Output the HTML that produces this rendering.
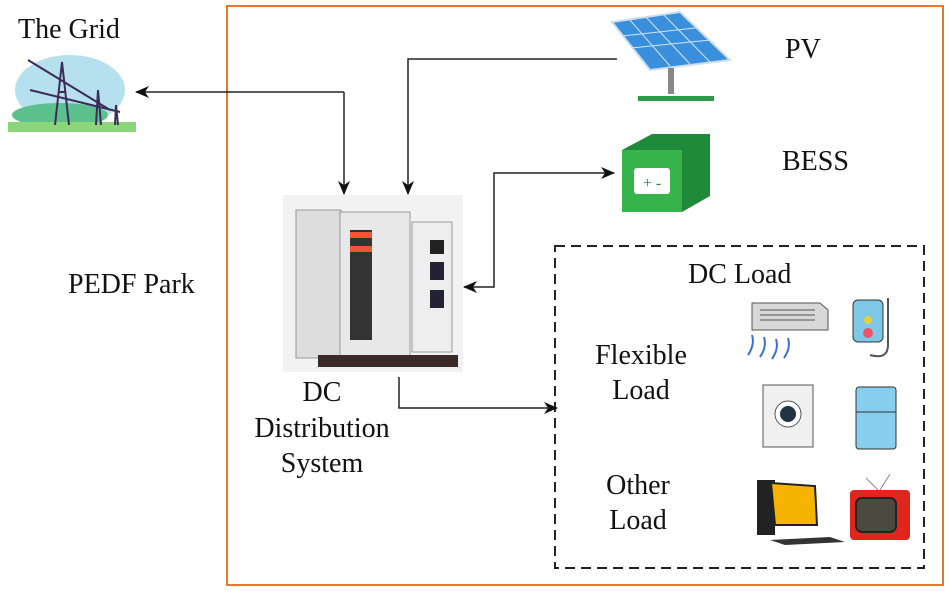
<!DOCTYPE html>
<html><head><meta charset="utf-8"><style>
body{margin:0;background:#fff}
svg{display:block}
text{font-family:"Liberation Serif",serif;fill:#111}
</style></head><body>
<svg width="950" height="593" viewBox="0 0 950 593" xmlns="http://www.w3.org/2000/svg">
<defs><marker id="a" markerWidth="14" markerHeight="14" refX="13" refY="7" orient="auto" markerUnits="userSpaceOnUse"><path d="M0,1 L14,7 L0,13 L4,7 z" fill="#111"/></marker></defs>
<rect x="227" y="6" width="716" height="579" fill="none" stroke="#e9772e" stroke-width="2"/>
<rect x="555" y="246" width="369" height="322" fill="none" stroke="#222" stroke-width="2" stroke-dasharray="10,6"/>
<text x="18" y="38" font-size="28">The Grid</text>
<text x="68" y="293" font-size="28">PEDF Park</text>
<text x="785" y="58" font-size="28">PV</text>
<text x="782" y="170" font-size="28">BESS</text>
<text x="688" y="283" font-size="28">DC Load</text>
<text x="641" y="364" font-size="28" text-anchor="middle">Flexible</text>
<text x="641" y="399" font-size="28" text-anchor="middle">Load</text>
<text x="638" y="494" font-size="28" text-anchor="middle">Other</text>
<text x="638" y="529" font-size="28" text-anchor="middle">Load</text>
<text x="322" y="401" font-size="28" text-anchor="middle">DC</text>
<text x="322" y="437" font-size="28" text-anchor="middle">Distribution</text>
<text x="322" y="472" font-size="28" text-anchor="middle">System</text>
<g fill="none" stroke="#222" stroke-width="1.5">
<path d="M344,92 H136" marker-end="url(#a)"/>
<path d="M344,92 V194" marker-end="url(#a)"/>
<path d="M617,59 H408 V194" marker-end="url(#a)"/>
<path d="M494,230 V173 H614" marker-end="url(#a)"/>
<path d="M494,230 V287 H464" marker-end="url(#a)"/>
<path d="M399,377 V408 H557" marker-end="url(#a)"/>
</g>
<!-- grid icon -->
<ellipse cx="70" cy="90" rx="55" ry="35" fill="#b6e0ee"/>
<ellipse cx="60" cy="115" rx="48" ry="12" fill="#5bbf8e"/>
<rect x="8" y="122" width="128" height="10" fill="#8cd67a"/>
<g stroke="#3a2d5a" stroke-width="2" fill="none"><path d="M55,125 L62,62 L69,125 M58,92 H66 M96,125 L98,90 L101,125 M115,125 L116,105 L118,125"/><path d="M28,60 L110,110 M30,90 L120,112"/></g>
<!-- PV -->
<polygon points="612,22 680,12 730,60 650,70" fill="#3a8fdc" stroke="#cde" stroke-width="2"/>
<g stroke="#cfe6fa" stroke-width="1"><path d="M629,19 L670,66 M646,17 L690,64 M663,14 L710,62 M622,36 L695,28 M631,48 L710,40"/></g>
<rect x="668" y="68" width="6" height="26" fill="#888"/>
<rect x="638" y="96" width="76" height="5" fill="#2c9a46"/>
<!-- BESS -->
<polygon points="622,150 652,134 710,134 710,196 682,212 622,212" fill="#1e8a3a"/>
<rect x="622" y="150" width="60" height="62" fill="#36b34a"/>
<rect x="634" y="168" width="36" height="26" rx="3" fill="#fff"/>
<text x="652" y="188" font-size="16" text-anchor="middle" style="fill:#1e8a3a">+ -</text>
<!-- cabinet -->
<rect x="283" y="195" width="180" height="177" fill="#f2f2f2"/>
<rect x="296" y="210" width="45" height="148" fill="#ddd" stroke="#999"/>
<rect x="340" y="212" width="70" height="145" fill="#e8e8e8" stroke="#999"/>
<rect x="350" y="230" width="22" height="110" fill="#333"/>
<rect x="350" y="232" width="22" height="6" fill="#e53"/><rect x="350" y="246" width="22" height="6" fill="#e53"/>
<rect x="412" y="222" width="40" height="130" fill="#eee" stroke="#999"/>
<rect x="430" y="240" width="14" height="14" fill="#222"/><rect x="430" y="262" width="14" height="18" fill="#223"/><rect x="430" y="290" width="14" height="18" fill="#223"/>
<rect x="318" y="355" width="140" height="12" fill="#3a2a28"/>
<!-- AC -->
<polygon points="752,303 820,303 828,310 828,330 752,330" fill="#d8d8d8" stroke="#555"/>
<g stroke="#555"><path d="M760,310 H815 M760,315 H815 M760,320 H815"/></g>
<g stroke="#3d6fd0" stroke-width="2" fill="none"><path d="M748,355 Q755,345 752,335 M760,357 Q767,347 764,337 M772,359 Q779,349 776,339 M784,358 Q791,348 788,338"/></g>
<!-- water heater -->
<rect x="853" y="300" width="30" height="42" rx="5" fill="#7fc7e6" stroke="#333"/>
<circle cx="868" cy="333" r="5" fill="#e56"/><circle cx="868" cy="320" r="4" fill="#ec3"/>
<path d="M888,298 V345 Q888,360 870,355" stroke="#555" fill="none" stroke-width="2"/>
<!-- washer -->
<rect x="763" y="385" width="50" height="62" fill="#f0f0f0" stroke="#555"/>
<circle cx="788" cy="414" r="13" fill="#fff" stroke="#555"/><circle cx="788" cy="414" r="8" fill="#234"/>
<!-- fridge -->
<rect x="856" y="387" width="40" height="62" rx="3" fill="#86cdee" stroke="#333"/>
<path d="M856,412 H896" stroke="#333"/>
<!-- computer -->
<rect x="757" y="480" width="18" height="55" fill="#222"/>
<polygon points="771,483 815,486 817,525 775,525" fill="#f6b300" stroke="#222" stroke-width="2"/>
<polygon points="770,540 830,537 845,542 785,545" fill="#333"/>
<!-- TV -->
<rect x="850" y="490" width="60" height="50" rx="4" fill="#e0261c"/>
<rect x="856" y="498" width="40" height="34" rx="6" fill="#4a4a3e" stroke="#222" stroke-width="2"/>
<path d="M878,490 L866,478 M880,490 L890,474" stroke="#888"/>
</svg>
</body></html>
